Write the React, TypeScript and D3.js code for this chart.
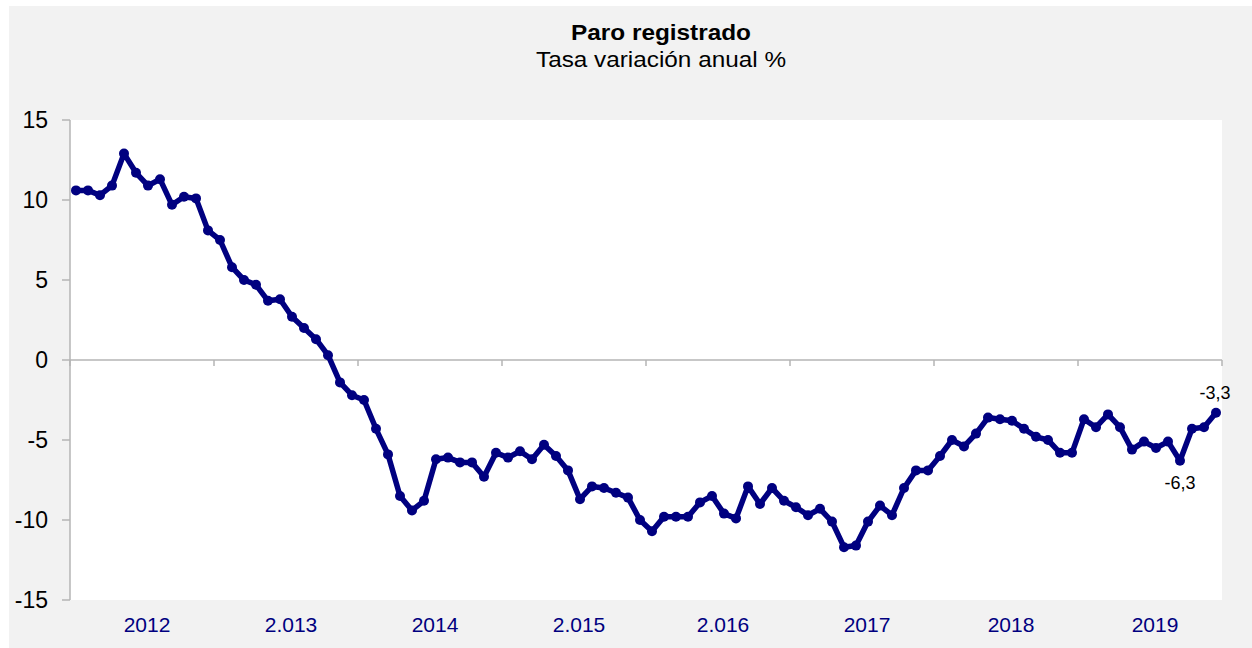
import React from 'react';
import * as d3 from 'd3';

// tasa de variación anual del paro registrado, mensual ene-2012 .. dic-2019
const tasa = [
  10.6, 10.6, 10.3, 10.9, 12.9, 11.7, 10.9, 11.3, 9.7, 10.2, 10.1, 8.1,
  7.5, 5.8, 5.0, 4.7, 3.7, 3.8, 2.7, 2.0, 1.3, 0.3, -1.4, -2.2,
  -2.5, -4.3, -5.9, -8.5, -9.4, -8.8, -6.2, -6.1, -6.4, -6.4, -7.3, -5.8,
  -6.1, -5.7, -6.2, -5.3, -6.0, -6.9, -8.7, -7.9, -8.0, -8.3, -8.6, -10.0,
  -10.7, -9.8, -9.8, -9.8, -8.9, -8.5, -9.6, -9.9, -7.9, -9.0, -8.0, -8.8,
  -9.2, -9.7, -9.3, -10.1, -11.7, -11.6, -10.1, -9.1, -9.7, -8.0, -6.9, -6.9,
  -6.0, -5.0, -5.4, -4.6, -3.6, -3.7, -3.8, -4.3, -4.8, -5.0, -5.8, -5.8,
  -3.7, -4.2, -3.4, -4.2, -5.6, -5.1, -5.5, -5.1, -6.3, -4.3, -4.2, -3.3,
];
const anios = ['2012', '2.013', '2014', '2.015', '2.016', '2017', '2018', '2019'];
const yTicks = [15, 10, 5, 0, -5, -10, -15];
const etiquetas = [
  { i: 95, texto: '-3,3', pos: 'arriba' },
  { i: 92, texto: '-6,3', pos: 'abajo' },
];

const W = 1252;
const H = 648;
const left = 70, right = 1222, top = 120, bottom = 600;
const azul = '#000080';
const gris = '#b4b4b4';

export default function App() {
  const x = d3.scaleLinear().domain([0, tasa.length]).range([left, right]);
  const y = d3.scaleLinear().domain([-15, 15]).range([bottom, top]);
  const cx = (i: number) => x(i + 0.5);

  const line = d3
    .line<number>()
    .x((_, i) => cx(i))
    .y(d => y(d));

  const yearTicks = d3.range(0, anios.length + 1).map(k => x(k * 12));

  return (
    <svg
      width={W}
      height={H}
      style={{ position: 'absolute', left: 0, top: 0 }}
      fontFamily="'Liberation Sans', Arial, sans-serif"
    >
      <rect x={0} y={0} width={W} height={H} fill="#ffffff" />
      <rect x={9} y={6} width={W - 9} height={H - 6} fill="#f2f2f2" />
      <rect x={left} y={top} width={right - left} height={bottom - top} fill="#ffffff" />

      <text x={661} y={40} textAnchor="middle" fontSize={22} fontWeight="bold" textLength={180} lengthAdjust="spacingAndGlyphs">
        Paro registrado
      </text>
      <text x={661} y={67} textAnchor="middle" fontSize={22} textLength={250} lengthAdjust="spacingAndGlyphs">
        Tasa variación anual %
      </text>

      {/* eje y */}
      <line x1={left} x2={left} y1={top} y2={bottom} stroke={gris} strokeWidth={1.5} />
      {yTicks.map(t => (
        <g key={t}>
          <line x1={left - 8} x2={left} y1={y(t)} y2={y(t)} stroke={gris} strokeWidth={1.5} />
          <text x={48} y={y(t)} dy="0.36em" textAnchor="end" fontSize={23} fill="#000">
            {t}
          </text>
        </g>
      ))}

      {/* línea de cero con marcas de año */}
      <line x1={left} x2={right} y1={y(0)} y2={y(0)} stroke={gris} strokeWidth={1.5} />
      {yearTicks.map((t, k) => (
        <line key={k} x1={t} x2={t} y1={y(0)} y2={y(0) + 6} stroke={gris} strokeWidth={1.5} />
      ))}

      {anios.map((a, k) => (
        <text key={a} x={x(k * 12 + 6) + 5} y={632} textAnchor="middle" fontSize={21} fill={azul}>
          {a}
        </text>
      ))}

      <path d={line(tasa) ?? ''} fill="none" stroke={azul} strokeWidth={5.5} strokeLinejoin="round" />
      {tasa.map((v, i) => (
        <circle key={i} cx={cx(i)} cy={y(v)} r={5} fill={azul} />
      ))}

      {etiquetas.map(e => (
        <text
          key={e.i}
          x={cx(e.i) + (e.pos === 'arriba' ? -1 : 0)}
          y={e.pos === 'arriba' ? y(tasa[e.i]) - 14 : y(tasa[e.i]) + 28}
          textAnchor="middle"
          fontSize={18}
          fill="#000"
        >
          {e.texto}
        </text>
      ))}
    </svg>
  );
}
